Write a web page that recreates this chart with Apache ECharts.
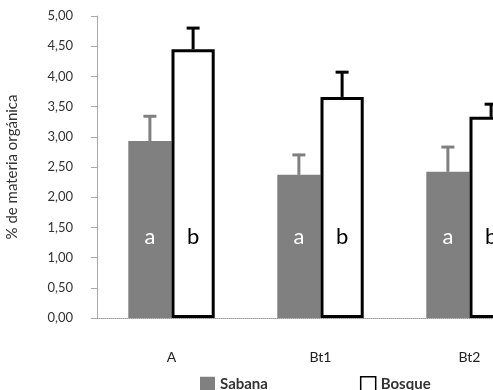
<!DOCTYPE html>
<html>
<head>
<meta charset="utf-8">
<script src="https://cdn.jsdelivr.net/npm/echarts@6/dist/echarts.min.js"></script>
<style>
  html, body { margin: 0; padding: 0; background: #fff; }
  #chart { width: 493px; height: 390px; }
</style>
</head>
<body>
<div id="chart"></div>
<script>
// horizons
const categories = ['A', 'Bt1', 'Bt2'];
// % materia organica
const sabana = [2.93, 2.37, 2.42];
const bosque = [4.45, 3.66, 3.33];
// error (upper only)
const sabanaErr = [0.41, 0.33, 0.41];
const bosqueErr = [0.35, 0.41, 0.21];
// significance letters
const sabanaLetters = ['a', 'a', 'a'];
const bosqueLetters = ['b', 'b', 'b'];
const letterLevel = 1.34;

const BAR_W = 0.29; // share of the category band
const font = 'Lato, "DejaVu Sans", sans-serif';

const chart = echarts.init(document.getElementById('chart'));

// error bar + letter drawn on one side of the group (side = -1 left, +1 right)
function makeCustom(name, vals, errs, letters, color, txtColor, side) {
  return {
    name: name + '_err',
    type: 'custom',
    z: 5,
    silent: true,
    data: vals.map((v, i) => [i, v, errs[i], letters[i]]),
    renderItem: function (params, api) {
      const i = api.value(0);
      const band = api.size([1, 0])[0];
      const off = side * band * BAR_W / 2;
      const top = api.coord([i, api.value(1)]);
      const hi = api.coord([i, api.value(1) + api.value(2)]);
      const lt = api.coord([i, letterLevel]);
      const x = top[0] + off;
      return {
        type: 'group',
        children: [
          { type: 'line', shape: { x1: x, y1: top[1], x2: x, y2: hi[1] },
            style: { stroke: color, lineWidth: 3 } },
          { type: 'line', shape: { x1: x - 6.5, y1: hi[1], x2: x + 6.5, y2: hi[1] },
            style: { stroke: color, lineWidth: 3 } },
          { type: 'text', x: x, y: lt[1],
            style: { text: letters[i], fill: txtColor, font: '22px ' + font,
                     align: 'center', verticalAlign: 'middle' } }
        ]
      };
    }
  };
}

const option = {
  animation: false,
  backgroundColor: '#fff',
  // plot runs past the right edge of the picture (third group is cut off)
  grid: { left: 97, top: 16, bottom: 72, width: 447, outerBoundsMode: 'none', containLabel: false },
  legend: {
    left: 195,
    top: 371,
    itemGap: 92,
    itemWidth: 15,
    itemHeight: 15,
    textStyle: { fontSize: 15, color: '#333', fontFamily: font, fontWeight: 'bold' },
    data: [
      { name: 'Sabana', icon: 'rect' },
      { name: 'Bosque', icon: 'path://M2,2 L12,2 L12,12 L2,12 Z',
        itemStyle: { color: '#fff', borderColor: '#000', borderWidth: 1.5 } }
    ]
  },
  xAxis: {
    type: 'category',
    data: categories,
    axisLine: { lineStyle: { color: '#999', type: 'dotted', width: 1 } },
    axisTick: { length: 5, lineStyle: { color: '#999' } },
    axisLabel: { margin: 32, fontSize: 14, color: '#222', fontFamily: font }
  },
  yAxis: {
    type: 'value',
    min: 0,
    max: 5,
    interval: 0.5,
    name: '% de materia orgánica',
    nameLocation: 'middle',
    nameGap: 77,
    nameTextStyle: { fontSize: 15, color: '#333', fontFamily: font },
    axisLine: { show: true, lineStyle: { color: '#aaa' } },
    axisTick: { show: true, length: 6, lineStyle: { color: '#aaa' } },
    splitLine: { show: false },
    axisLabel: {
      margin: 24, fontSize: 13, color: '#333', fontFamily: font,
      formatter: v => v.toFixed(2).replace('.', ',')
    }
  },
  series: [
    {
      name: 'Sabana', type: 'bar', data: sabana,
      barWidth: (BAR_W * 100) + '%', barGap: '0%',
      itemStyle: { color: '#808080' }
    },
    {
      name: 'Bosque', type: 'bar', data: bosque,
      barWidth: (BAR_W * 100) + '%', barGap: '0%',
      itemStyle: { color: '#fff', borderColor: '#000', borderWidth: 3 }
    },
    makeCustom('Sabana', sabana, sabanaErr, sabanaLetters, '#808080', '#fff', -1),
    makeCustom('Bosque', bosque, bosqueErr, bosqueLetters, '#000', '#000', 1)
  ]
};

chart.setOption(option);
</script>
</body>
</html>
